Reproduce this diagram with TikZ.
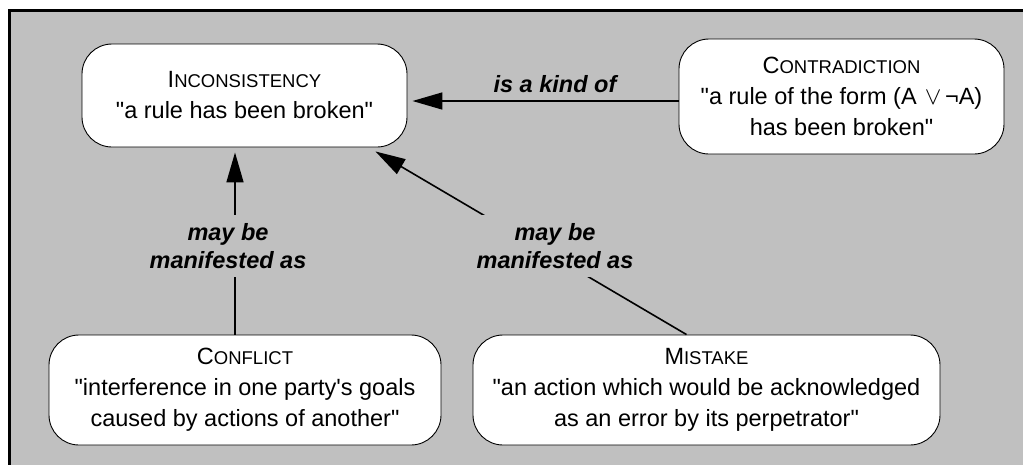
\documentclass[tikz,border=0pt]{standalone}
\usepackage{fontspec}
\setmainfont{Liberation Sans}[Ligatures=TeXOff]
\usetikzlibrary{arrows.meta,calc}
\definecolor{bg}{HTML}{C0C0C0}
\newcommand{\capsc}[2]{{\fontsize{23.5}{31}\selectfont #1}{\fontsize{18.5}{31}\selectfont #2}}
\begin{document}
\begin{tikzpicture}[x=1pt,y=-1pt,
  concept/.style={draw=black, line width=0.9pt, fill=white, rounded corners=30pt,
    align=center, font=\fontsize{23.5}{31}\selectfont, inner sep=0pt},
  rel/.style={font=\fontsize{23.5}{28}\selectfont\bfseries\itshape, align=center,
    fill=bg, inner xsep=3pt, inner ysep=8pt},
  link/.style={line width=1.6pt, -{Triangle[length=30pt,width=17pt]}}]
\useasboundingbox (0,0) rectangle (1023,464);
\draw[line width=3pt, fill=bg] (9,10) rectangle (1060,500);

\node[concept, minimum width=325pt, minimum height=103pt] (inc) at (244.5,95.5)
  {\capsc{I}{NCONSISTENCY}\\"a rule has been broken"};
\node[concept, minimum width=325pt, minimum height=115pt] (con) at (841.5,96.5)
  {\capsc{C}{ONTRADICTION}\\"a rule of the form (A\hspace{0.35em}\(\vee\)\hspace{0.15em}¬A)\\has been broken"};
\node[concept, minimum width=392pt, minimum height=110pt] (conf) at (245,390)
  {\capsc{C}{ONFLICT}\\"interference in one party's goals\\caused by actions of another"};
\node[concept, minimum width=467pt, minimum height=110pt] (mis) at (706.5,390)
  {\capsc{M}{ISTAKE}\\"an action which would be acknowledged\\as an error by its perpetrator"};

\draw[link, shorten >=5pt] (con.west |- 0,101) -- (inc.east |- 0,101);
\draw[link, shorten >=5pt] (conf.north -| 235,0) -- (inc.south -| 235,0);
\draw[link] ($(mis.north)+(-20,0)$) -- ($(inc.south east)+(-32,4)$);

\node[rel, fill=none, anchor=base] (l1) at (555,92) {is a kind of};
\node[rel] (l2) at (228,246) {may be\\manifested as};
\node[rel] (l3) at (555,246) {may be\\manifested as};
\end{tikzpicture}
\end{document}
